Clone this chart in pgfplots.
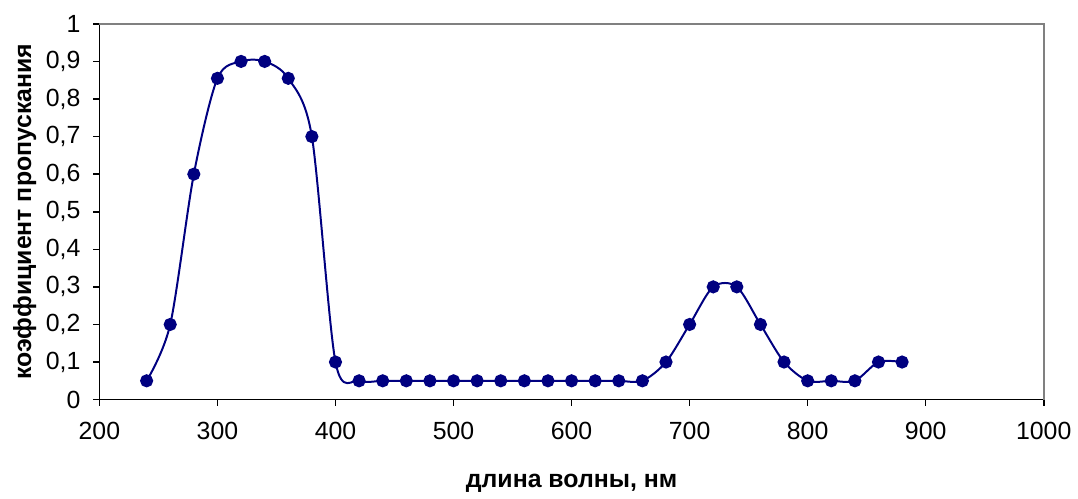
\documentclass[border=0pt]{standalone}
\usepackage{fontspec}
\setmainfont{Liberation Sans}
\usepackage{pgfplots}
\pgfplotsset{compat=1.18}
\definecolor{navy}{HTML}{000080}

\begin{document}
\begin{tikzpicture}
\begin{axis}[scale only axis, width=475pt, height=189pt,
  xmin=200, xmax=1000, ymin=0, ymax=1,
  xtick={200,300,...,1000}, ytick={0,0.1,...,1.0},
  axis lines*=left, axis line style={-, black, line width=0.8pt},
  tick align=outside, major tick length=3pt, tick style={black, line width=0.8pt},
  tick label style={font=\fontsize{12.5}{14}\selectfont},
  xticklabel style={yshift=-5pt}, yticklabel style={xshift=-3pt},
  /pgf/number format/assume math mode=true,
  /pgf/number format/use comma, /pgf/number format/1000 sep={},
  xlabel={\bfseries длина волны, нм}, ylabel={\bfseries коэффициент пропускания},
  label style={font=\fontsize{12.5}{14}\selectfont},
  xlabel style={yshift=-10pt}, ylabel style={yshift=-2pt},
  clip=false]
\draw[gray, line width=0.8pt] (rel axis cs:0,1) -- (rel axis cs:1,1) -- (rel axis cs:1,0);
\addplot[color=navy, line width=1pt, smooth, mark=*, mark size=2.8pt, mark options={fill=navy, draw=navy}]
coordinates {(240,0.05) (260,0.2) (280,0.6) (300,0.855) (320,0.9) (340,0.9) (360,0.855) (380,0.7) (400,0.1)
(420,0.05) (440,0.05) (460,0.05) (480,0.05) (500,0.05) (520,0.05) (540,0.05) (560,0.05) (580,0.05) (600,0.05)
(620,0.05) (640,0.05) (660,0.05) (680,0.1) (700,0.2) (720,0.3) (740,0.3) (760,0.2) (780,0.1) (800,0.05)
(820,0.05) (840,0.05) (860,0.1) (880,0.1)};
\end{axis}
\useasboundingbox (current axis.south west) ++(-50pt,-45.5pt) rectangle ([shift={(14pt,12pt)}]current axis.north east);
\end{tikzpicture}
\end{document}
